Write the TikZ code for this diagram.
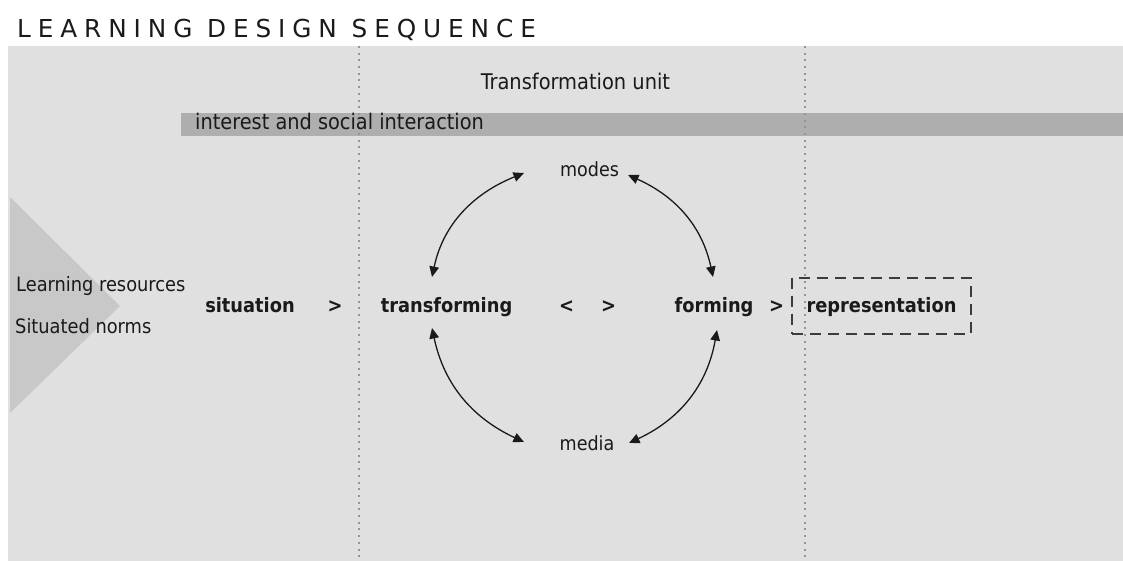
\documentclass[tikz,border=0pt]{standalone}
\usepackage{fontspec}
\setmainfont{DejaVu Sans Condensed}
\newfontfamily\titlefont[LetterSpace=28]{DejaVu Sans}
\usetikzlibrary{arrows.meta}

\definecolor{panel}{HTML}{E0E0E0}
\definecolor{band}{HTML}{AEAEAE}
\definecolor{wedge}{HTML}{C8C8C8}
\definecolor{ink}{HTML}{1A1A1A}
\definecolor{sep}{HTML}{959595}

\tikzset{
  lbl/.style={anchor=base west, inner sep=0pt, text=ink,
              font=\fontsize{19.8}{22}\selectfont},
  blbl/.style={anchor=base, inner sep=0pt, text=ink,
               font=\fontsize{19.8}{22}\selectfont\bfseries},
  clbl/.style={anchor=base, inner sep=0pt, text=ink,
               font=\fontsize{19.5}{22}\selectfont},
  divider/.style={draw=sep, line width=2.2pt,
                  dash pattern=on 2pt off 4.7pt},
  cycle arrow/.style={{Triangle[length=10.5pt,width=9.5pt]}-{Triangle[length=10.5pt,width=9.5pt]},
                      line width=1.3pt, draw=ink},
  repbox/.style={draw=ink!85, line width=2pt, dash pattern=on 11pt off 7pt,
                 minimum width=179pt, minimum height=56pt,
                 text height=17pt, text depth=4pt, inner sep=0pt, text=ink,
                 font=\fontsize{19.8}{22}\selectfont\bfseries}
}

\begin{document}
\begin{tikzpicture}[x=1pt,y=1pt]
\useasboundingbox (0,0) rectangle (1123,-561);

% title
\node[anchor=base west, inner sep=0pt, text=ink,
      font=\titlefont\fontsize{24.7}{28}\selectfont] (title) at (17,-38)
  {LEARNING DESIGN SEQUENCE};

% grey panel, interest band and incoming wedge
\fill[panel] (8,-46) rectangle (1123,-561);
\fill[band] (181,-113) rectangle (1123,-136);
\fill[wedge] (10,-197) -- (120,-306) -- (10,-413) -- cycle;

% phase dividers
\draw[divider] (359,-46) -- (359,-561);
\draw[divider] (805,-46) -- (805,-561);

% headings
\node[anchor=base, inner sep=0pt, text=ink,
      font=\fontsize{21.6}{24}\selectfont] (unit) at (575.5,-90) {Transformation unit};
\node[anchor=base west, inner sep=0pt, text=ink,
      font=\fontsize{21.5}{24}\selectfont] (interest) at (195,-130) {interest and social interaction};

% inputs
\node[lbl] (resources) at (16,-291) {Learning resources};
\node[lbl] (norms) at (15,-333) {Situated norms};

% sequence
\node[blbl] (situation) at (250,-312) {situation};
\node[blbl] (gt1) at (335,-312) {>};
\node[blbl] (transforming) at (446.5,-312) {transforming};
\node[blbl] (lt) at (566.5,-312) {<};
\node[blbl] (gt2) at (608.5,-312) {>};
\node[blbl] (forming) at (714,-312) {forming};
\node[blbl] (gt3) at (776.5,-312) {>};
\node[repbox] (representation) at (881.5,-305.5) {representation};

% modes and media
\node[clbl] (modes) at (589.5,-177) {modes};
\node[clbl] (media) at (587,-450) {media};

% ends of the cycle arrows
\coordinate (tr-up) at (432,-277);
\coordinate (tr-dn) at (432,-328);
\coordinate (fo-up) at (713,-277);
\coordinate (fo-dn) at (717,-330);
\coordinate (mo-w) at (524,-173);
\coordinate (mo-e) at (628,-175);
\coordinate (me-w) at (524,-442);
\coordinate (me-e) at (629,-443);

\draw[cycle arrow] (tr-up) to[out=78, in=202] (mo-w);
\draw[cycle arrow] (mo-e) to[out=-24, in=102] (fo-up);
\draw[cycle arrow] (tr-dn) to[out=-78, in=155] (me-w);
\draw[cycle arrow] (fo-dn) to[out=-100, in=25] (me-e);
\end{tikzpicture}
\end{document}
